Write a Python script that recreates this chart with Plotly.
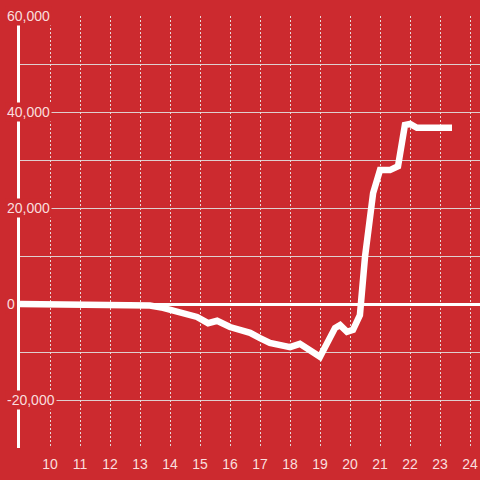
import plotly.graph_objects as go

# data
x_vals = [9.0, 10.33, 10.57, 13.33, 13.77, 14.33, 14.9, 15.27, 15.57, 16.0, 16.67, 17.0, 17.33,
          18.0, 18.33, 19.0, 19.5, 19.67, 19.9, 20.1, 20.33, 20.5, 20.67, 20.77, 21.0, 21.33,
          21.6, 21.83, 22.0, 22.23, 23.4]
y_vals = [0, 0, -300, -300, -800, -1900, -2700, -4000, -3500, -4800, -6000, -7100, -8100,
          -9000, -8300, -11000, -5000, -4400, -5800, -5400, -2300, 9800, 20000, 23100, 27900,
          27900, 28700, 37300, 37500, 36700, 36700]
x_ticks = list(range(10, 25))
y_label_vals = [60000, 40000, 20000, 0, -20000]
y_label_text = ["60,000", "40,000", "20,000", "0", "-20,000"]

BG = "#cc2a2f"
TXT = "rgba(255,240,240,0.92)"

fig = go.Figure()
fig.add_trace(go.Scatter(x=x_vals, y=y_vals, mode="lines",
                         line=dict(color="white", width=6.5), hoverinfo="skip"))

fig.update_layout(
    width=480, height=480,
    paper_bgcolor=BG, plot_bgcolor=BG,
    margin=dict(l=20, r=0, t=16, b=32),
    showlegend=False,
    font=dict(family="Liberation Sans, Arial, sans-serif", size=14, color=TXT),
    xaxis=dict(range=[9, 24.333], tickvals=x_ticks, ticktext=[str(t) for t in x_ticks],
               showgrid=True, gridcolor="rgba(235,235,235,0.9)", gridwidth=1, griddash="2px,2px",
               zeroline=False, showline=False, ticks="", ticklabelstandoff=6),
    yaxis=dict(range=[-30000, 60000], dtick=10000, showticklabels=False,
               showgrid=True, gridcolor="rgba(225,225,225,0.9)", gridwidth=1,
               zeroline=True, zerolinecolor="white", zerolinewidth=3,
               showline=True, linecolor="white", linewidth=3, ticks=""),
)

for v, t in zip(y_label_vals, y_label_text):
    fig.add_annotation(x=-0.033, xref="paper", y=v, yref="y", text=t, showarrow=False,
                       xanchor="left", yanchor="middle", bgcolor=BG, borderpad=1,
                       font=dict(size=14, color=TXT))

fig.write_html("out.html", config={"displayModeBar": False, "staticPlot": True},
               post_script="document.body.style.margin='0';document.body.style.overflow='hidden';"
                           "document.body.style.background='" + BG + "';")
